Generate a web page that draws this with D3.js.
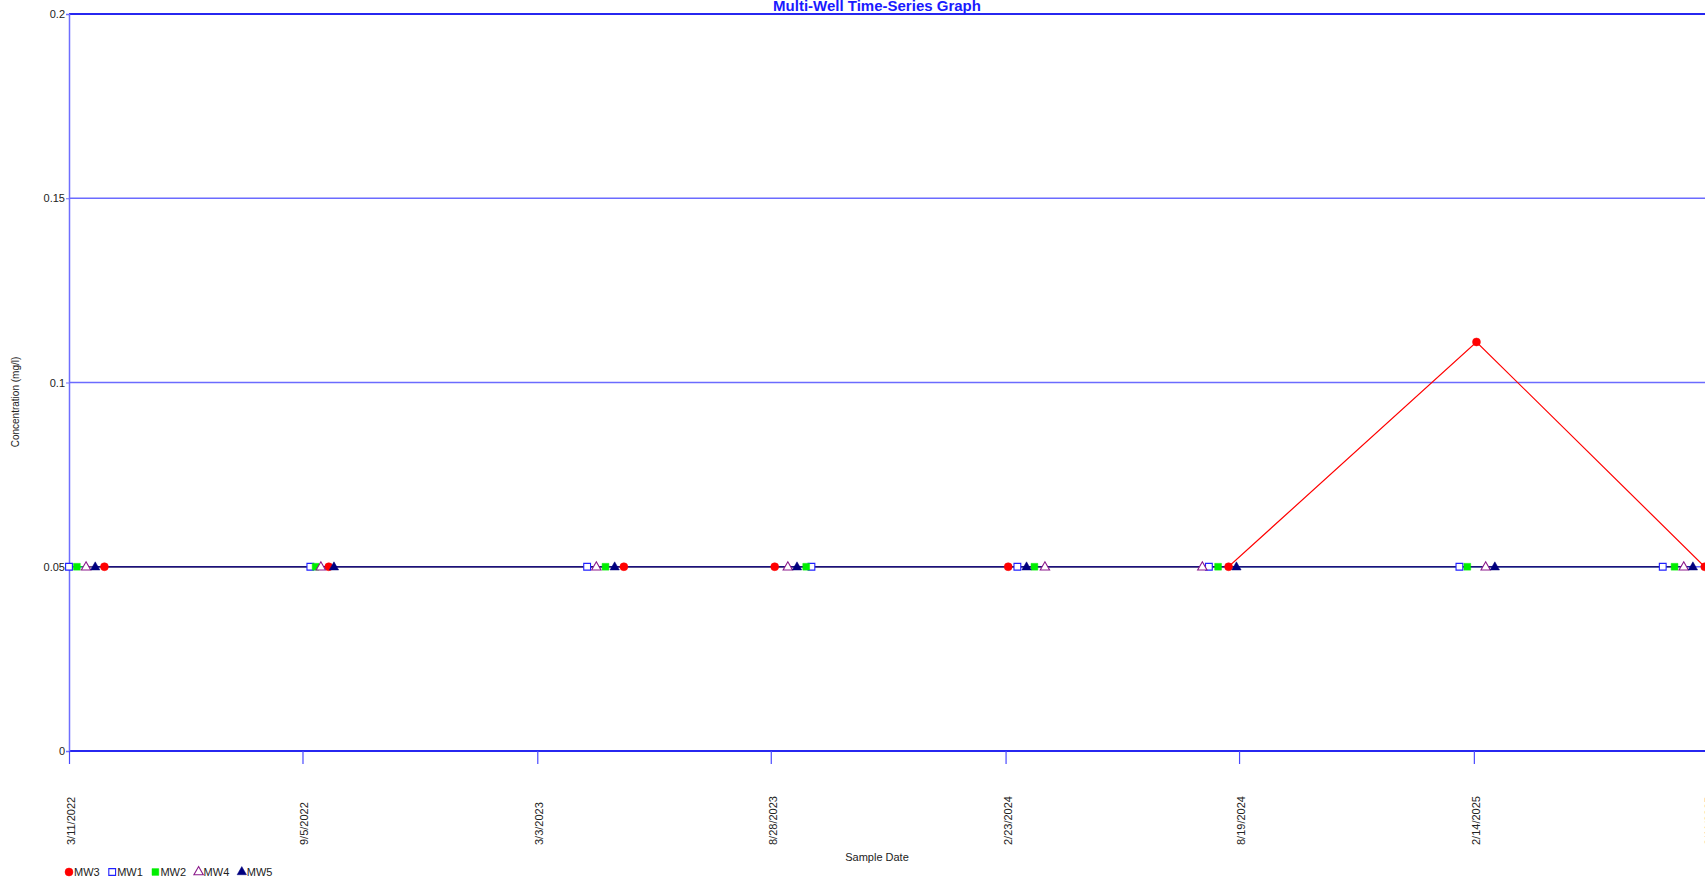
<!DOCTYPE html>
<html>
<head>
<meta charset="utf-8">
<script src="https://cdn.jsdelivr.net/npm/d3@7"></script>
<style>
  html, body { margin: 0; padding: 0; background: #fff; overflow: hidden; }
  svg { display: block; font-family: "Liberation Sans", Arial, sans-serif; }
</style>
</head>
<body>
<svg id="chart" width="1705" height="881"></svg>
<script>
// Sample dates (M/D/YYYY) and concentrations (mg/l) per well
const mw3Dates = ["4/7/2022", "9/25/2022", "5/8/2023", "8/31/2023", "2/25/2024", "8/11/2024", "2/16/2025", "8/9/2025"];
const mw3Values = [0.05, 0.05, 0.05, 0.05, 0.05, 0.05, 0.111, 0.05];
const mw1Dates = ["3/11/2022", "9/11/2022", "4/10/2023", "9/28/2023", "3/3/2024", "7/27/2024", "2/3/2025", "7/8/2025"];
const mw1Values = [0.05, 0.05, 0.05, 0.05, 0.05, 0.05, 0.05, 0.05];
const mw2Dates = ["3/17/2022", "9/15/2022", "4/24/2023", "9/24/2023", "3/16/2024", "8/3/2024", "2/9/2025", "7/17/2025"];
const mw2Values = [0.05, 0.05, 0.05, 0.05, 0.05, 0.05, 0.05, 0.05];
const mw4Dates = ["3/24/2022", "9/19/2022", "4/17/2023", "9/10/2023", "3/24/2024", "7/22/2024", "2/23/2025", "7/24/2025"];
const mw4Values = [0.05, 0.05, 0.05, 0.05, 0.05, 0.05, 0.05, 0.05];
const mw5Dates = ["3/31/2022", "9/29/2022", "5/1/2023", "9/17/2023", "3/10/2024", "8/17/2024", "3/2/2025", "7/31/2025"];
const mw5Values = [0.05, 0.05, 0.05, 0.05, 0.05, 0.05, 0.05, 0.05];

// Axis ticks
const xTickLabels = ["3/11/2022", "9/5/2022", "3/3/2023", "8/28/2023", "2/23/2024", "8/19/2024", "2/14/2025", "8/11/2025"];
const yTickValues = [0, 0.05, 0.1, 0.15, 0.2];
const yTickLabels = ["0", "0.05", "0.1", "0.15", "0.2"];
const xDomainEnd = "8/11/2025 12:00";

const parse = d3.timeParse("%m/%d/%Y");
const parseEnd = d3.timeParse("%m/%d/%Y %H:%M");

const series = [
  { name: "MW3", dates: mw3Dates, values: mw3Values, color: "#ff0000", symbol: "circle", fill: true },
  { name: "MW1", dates: mw1Dates, values: mw1Values, color: "#2020ff", symbol: "square", fill: false },
  { name: "MW2", dates: mw2Dates, values: mw2Values, color: "#00ee00", symbol: "square", fill: true },
  { name: "MW4", dates: mw4Dates, values: mw4Values, color: "#8b1a8b", symbol: "triangle", fill: false },
  { name: "MW5", dates: mw5Dates, values: mw5Values, color: "#00007f", symbol: "triangle", fill: true }
];

const svg = d3.select("#chart");
const plotLeft = 69, plotRight = 1708, plotTop = 14, plotBottom = 751;

const x = d3.scaleTime()
  .domain([parse(xTickLabels[0]), parseEnd(xDomainEnd)])
  .range([plotLeft, plotRight]);
const y = d3.scaleLinear().domain([0, 0.2]).range([plotBottom, plotTop]);

// Horizontal grid lines
svg.append("g").selectAll("line")
  .data(yTickValues)
  .join("line")
  .attr("x1", plotLeft).attr("x2", plotRight)
  .attr("y1", d => y(d)).attr("y2", d => y(d))
  .attr("stroke", d => (d === 0 || d === 0.2) ? "#2727f0" : "#6b6bff")
  .attr("stroke-width", d => (d === 0 || d === 0.2) ? 2 : 1.5);

// Y axis
const yAxis = d3.axisLeft(y)
  .tickValues(yTickValues)
  .tickFormat((d, i) => yTickLabels[i])
  .tickSize(3)
  .tickPadding(1);
const gy = svg.append("g").attr("transform", `translate(${plotLeft},0)`).call(yAxis);
gy.select(".domain").attr("stroke", "#6e6eff").attr("stroke-width", 1.5);
gy.selectAll(".tick line").attr("stroke", "#6e6eff");
gy.selectAll("text").attr("font-size", 11).attr("fill", "#222")
  .attr("font-family", "Liberation Sans, Arial, sans-serif");

// X axis
const xTickDates = xTickLabels.map(parse);
const xAxis = d3.axisBottom(x)
  .tickValues(xTickDates)
  .tickFormat((d, i) => xTickLabels[i])
  .tickSize(13);
const gx = svg.append("g").attr("transform", `translate(0,${plotBottom})`).call(xAxis);
gx.select(".domain").remove();
gx.selectAll(".tick line").attr("stroke", "#4a4aff").attr("stroke-width", 1.2);
gx.selectAll("text")
  .attr("font-size", 11).attr("fill", "#222")
  .attr("font-family", "Liberation Sans, Arial, sans-serif")
  .attr("text-anchor", "start")
  .attr("dy", null).attr("y", null)
  .attr("transform", "translate(5.5,94) rotate(-90)");

// Series lines and markers
const symbolType = { circle: d3.symbolCircle, square: d3.symbolSquare, triangle: d3.symbolTriangle };
const symbolSize = { circle: 50, square: 46, triangle: 38 };
const line = d3.line().x(d => x(d.date)).y(d => y(d.value));

series.forEach(s => {
  s.points = s.dates.map((d, i) => ({ date: parse(d), value: s.values[i] }));
});

const plot = svg.append("g");
series.forEach(s => {
  plot.append("path")
    .datum(s.points)
    .attr("d", line)
    .attr("fill", "none")
    .attr("stroke", s.color)
    .attr("stroke-width", 1.2);
});
series.forEach(s => {
  const sym = d3.symbol().type(symbolType[s.symbol]).size(symbolSize[s.symbol]);
  plot.append("g").selectAll("path")
    .data(s.points)
    .join("path")
    .attr("transform", d => `translate(${x(d.date)},${y(d.value) + (s.symbol === "triangle" ? 0.5 : 0)})`)
    .attr("d", sym)
    .attr("fill", s.fill ? s.color : "#fff")
    .attr("stroke", s.color)
    .attr("stroke-width", s.fill ? 0.5 : 1.1);
});

// Title and axis titles
svg.append("text")
  .attr("x", 877).attr("y", 11)
  .attr("text-anchor", "middle")
  .attr("font-size", 15).attr("font-weight", "bold")
  .attr("fill", "#1a1aff")
  .text("Multi-Well Time-Series Graph");

svg.append("text")
  .attr("transform", "translate(19,402) rotate(-90)")
  .attr("text-anchor", "middle")
  .attr("font-size", 10).attr("fill", "#222")
  .text("Concentration (mg/l)");

svg.append("text")
  .attr("x", 877).attr("y", 861)
  .attr("text-anchor", "middle")
  .attr("font-size", 11).attr("fill", "#222")
  .text("Sample Date");

// Legend
const legend = svg.append("g").attr("transform", "translate(69,872)");
const item = legend.selectAll("g")
  .data(series)
  .join("g")
  .attr("transform", (d, i) => `translate(${i * 43.2},0)`);
item.append("path")
  .attr("d", d => d3.symbol().type(symbolType[d.symbol]).size(symbolSize[d.symbol])())
  .attr("fill", d => d.fill ? d.color : "#fff")
  .attr("stroke", d => d.color)
  .attr("stroke-width", d => d.fill ? 0.5 : 1.1);
item.append("text")
  .attr("x", 5).attr("y", 4)
  .attr("font-size", 11).attr("fill", "#222")
  .text(d => d.name);
</script>
</body>
</html>
